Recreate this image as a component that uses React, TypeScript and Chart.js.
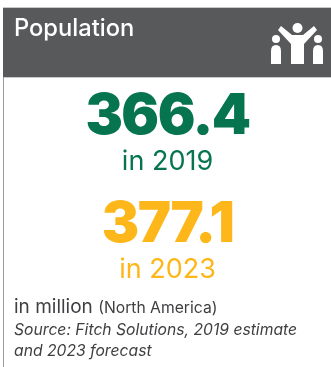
import { useEffect, useRef } from "react";
import { Chart, registerables } from "chart.js";

Chart.register(...registerables);

const title = "Population";
const years = ["2019", "2023"];
const populationMillions = [366.4, 377.1];
const yearColors = ["#06754f", "#fdb71a"];
const unitLabel = "in million";
const regionLabel = "(North America)";
const sourceLines = ["Source: Fitch Solutions, 2019 estimate", "and 2023 forecast"];

const HEADER_FILL = "#58595b";
const TEXT_DARK = "#3f3f42";
const SANS = "Inter, 'Open Sans', sans-serif";

// One standing figure: a round head over a body with a domed top.
function smallFigure(ctx: CanvasRenderingContext2D, cx: number) {
  ctx.beginPath();
  ctx.arc(cx, 39, 4, 0, Math.PI * 2);
  ctx.fill();
  ctx.beginPath();
  ctx.moveTo(cx - 5, 64);
  ctx.lineTo(cx - 5, 51);
  ctx.quadraticCurveTo(cx - 5, 45, cx, 45);
  ctx.quadraticCurveTo(cx + 5, 45, cx + 5, 51);
  ctx.lineTo(cx + 5, 64);
  ctx.closePath();
  ctx.fill();
}

// Three people, the middle one with raised arms.
function drawPeopleIcon(ctx: CanvasRenderingContext2D) {
  ctx.save();
  ctx.fillStyle = "#ffffff";
  smallFigure(ctx, 276);
  smallFigure(ctx, 318);
  ctx.beginPath();
  ctx.arc(297.5, 28, 5, 0, Math.PI * 2);
  ctx.fill();
  ctx.beginPath();
  ctx.moveTo(281, 26);
  ctx.lineTo(292, 35);
  ctx.lineTo(303, 35);
  ctx.lineTo(314, 26);
  ctx.lineTo(317, 30);
  ctx.lineTo(304, 44);
  ctx.lineTo(304, 64);
  ctx.lineTo(291, 64);
  ctx.lineTo(291, 44);
  ctx.lineTo(278, 30);
  ctx.closePath();
  ctx.fill();
  ctx.restore();
}

const cardPlugin = {
  id: "populationCard",
  beforeDraw(chart: Chart) {
    const { ctx, width, height } = chart;
    ctx.save();
    ctx.fillStyle = "#ffffff";
    ctx.fillRect(0, 0, width, height);
    ctx.fillStyle = "#c9c9c9";
    ctx.fillRect(3, 7, width - 3, 1);
    ctx.fillRect(3, 77, width - 3, 1);
    ctx.fillStyle = "#9a9a9a";
    ctx.fillRect(3, 77, 1, height - 77);
    ctx.fillStyle = HEADER_FILL;
    ctx.fillRect(3, 8, width - 3, 69);
    ctx.fillStyle = "#ffffff";
    ctx.font = `500 23.7px ${SANS}`;
    ctx.textAlign = "left";
    ctx.textBaseline = "alphabetic";
    ctx.fillText(title, 14, 36);
    ctx.restore();
    drawPeopleIcon(ctx);
  },
  afterDatasetsDraw(chart: Chart) {
    const { ctx, chartArea } = chart;
    const yScale = chart.scales.y;
    const centerX = (chartArea.left + chartArea.right) / 2;
    ctx.save();
    ctx.textBaseline = "alphabetic";
    ctx.textAlign = "center";
    years.forEach((year, i) => {
      const y = yScale.getPixelForValue(i);
      ctx.fillStyle = yearColors[i];
      ctx.font = `900 56px ${SANS}`;
      ctx.letterSpacing = "-1.5px";
      ctx.fillText(populationMillions[i].toFixed(1), centerX, y - 16);
      ctx.letterSpacing = "0px";
      ctx.font = `400 27px ${SANS}`;
      ctx.fillText(`in ${year}`, centerX, y + 20);
    });

    ctx.textAlign = "left";
    ctx.fillStyle = TEXT_DARK;
    ctx.font = `400 19px ${SANS}`;
    ctx.fillText(unitLabel, 14, 313);
    const unitWidth = ctx.measureText(unitLabel + " ").width;
    ctx.font = `400 15.7px ${SANS}`;
    ctx.fillText(regionLabel, 14 + unitWidth, 313);
    ctx.font = `italic 400 15.7px ${SANS}`;
    sourceLines.forEach((line, i) => ctx.fillText(line, 14, 335 + i * 21));
    ctx.restore();
  },
};

export default function App() {
  const canvasRef = useRef<HTMLCanvasElement>(null);

  useEffect(() => {
    const chart = new Chart(canvasRef.current!, {
      type: "line",
      plugins: [cardPlugin],
      data: {
        labels: years,
        datasets: [
          {
            data: populationMillions,
            showLine: false,
            pointRadius: 0,
            pointHoverRadius: 0,
          },
        ],
      },
      options: {
        indexAxis: "y",
        animation: false,
        responsive: false,
        events: [],
        layout: { padding: { top: 95.5, bottom: 55, left: 4, right: 0 } },
        plugins: { legend: { display: false }, tooltip: { enabled: false } },
        scales: {
          x: { display: false, min: 300, max: 400 },
          y: { type: "category", display: false, offset: true },
        },
      },
    });
    return () => chart.destroy();
  }, []);

  return (
    <div style={{ position: "absolute", left: 0, top: 0, width: 331, height: 367, background: "#ffffff" }}>
      <canvas ref={canvasRef} width={331} height={367} style={{ display: "block" }} />
    </div>
  );
}
